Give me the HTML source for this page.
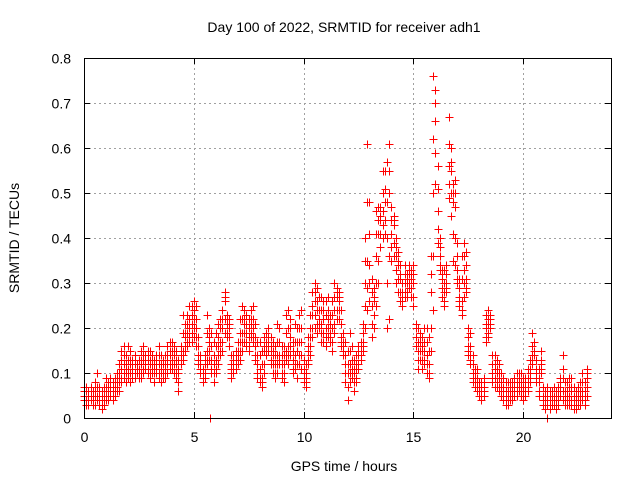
<!DOCTYPE html>
<html><head><meta charset="utf-8"><style>
body{margin:0;background:#fff;}
svg text{font-family:"Liberation Sans",sans-serif;font-size:14px;fill:#000;}
</style></head><body>
<svg id="chart" width="640" height="480" viewBox="0 0 640 480" xmlns="http://www.w3.org/2000/svg">
<rect width="640" height="480" fill="#fff"/>
<text x="344" y="32" text-anchor="middle">Day 100 of 2022, SRMTID for receiver adh1</text>
<text transform="translate(19,238) rotate(-90)" text-anchor="middle">SRMTID / TECUs</text>
<text x="344" y="471" text-anchor="middle">GPS time / hours</text>
<g id="grid" shape-rendering="crispEdges"></g>
<g id="ticks"></g>
<g id="marks" shape-rendering="crispEdges"></g>
<rect x="84.5" y="58.5" width="527" height="360" fill="none" stroke="#000" stroke-width="1" shape-rendering="crispEdges"/>
</svg>
<script>
const xTicks=[0,5,10,15,20];
const yTicks=[0,0.1,0.2,0.3,0.4,0.5,0.6,0.7,0.8];
const yTickLabels=["0","0.1","0.2","0.3","0.4","0.5","0.6","0.7","0.8"];
const tStart=0, tStep=0.1;
const lowVals=[4,3,3,4,3,3,4,3,2,3, 4,4,5,4,5,6,6,8,9,8, 9,8,9,9,10,9,9,10,11,10, 9,10,8,10,9,8,9,9,10,11, 11,10,9,6,12,13,15,16,17,17, 18,16,12,10,8,9,12,13,10,8, 10,12,14,15,19,18,16,9,10,11, 12,13,15,17,16,15,18,17,13,9, 8,7,10,14,15,12,10,9,10,12, 9,8,13,12,14,10,11,9,12,11, 8,7,12,14,18,20,19,20,17,17, 16,18,17,15,19,22,22,16,14,8, 4,8,9,6,8,11,13,15,20,24, 26,18,20,25,30,38,40,41,20,22, 35,36,30,28,26,25,27,27,29,27, 25,20,11,13,11,12,10,9,15,24, 52,39,33,27,25,28,49,45,35,34, 30,25,23,27,28,14,12,8,7,6, 5,4,5,17,18,20,8,7,7,6, 5,4,3,3,4,4,5,5,6,5, 4,5,6,8,12,14,8,5,10,5, 2,3,2,3,3,2,3,5,4,3, 3,3,3,2,2,3,3,4,3,5];
const lowerMidVals=[4,4,4,5,4,5,5,4,3,4, 5,5,6,5,6,7,8,9,10,10, 10,10,10,10,10,10,10,11,12,11, 10,11,10,11,10,10,10,10,12,12, 12,12,10,8,13,14,16,17,18,19, 20,18,13,11,9,10,13,15,11,10, 11,14,15,17,22,19,18,10,11,12, 13,15,17,19,17,16,19,18,14,10, 9,8,12,15,16,13,12,10,12,13, 10,10,14,14,16,11,12,12,14,14, 9,8,13,16,20,23,21,21,19,19, 18,20,18,17,21,24,24,17,15,10, 7,10,10,8,9,12,14,16,25,29, 30,21,23,30,35,41,43,44,30,36, 38,39,33,31,28,26,28,28,30,29, 27,18,13,15,13,13,12,10,20,36, 59,42,34,29,26,29,52,50,41,40, 31,26,24,30,29,15,13,9,8,7, 5,5,6,18,19,21,9,9,8,7, 6,5,4,4,5,5,6,6,7,6, 5,6,7,9,13,15,9,6,11,4, 3,4,3,4,3,3,4,6,6,4, 4,4,4,3,3,4,4,5,4,7];
const midVals=[5,6,5,5,5,6,5,5,4,5, 6,6,7,6,7,8,9,11,12,11, 11,12,11,12,11,10,12,13,12,13, 12,12,11,12,12,11,12,11,13,14, 13,14,12,10,14,15,18,19,20,21, 22,20,14,12,10,12,15,17,13,12, 13,16,17,20,26,21,20,11,12,13, 14,17,19,21,19,18,21,20,16,12, 11,9,15,16,17,15,14,12,14,14, 12,12,15,16,18,13,14,15,17,17, 10,9,15,18,23,26,24,22,21,22, 20,22,19,20,24,27,26,18,16,12, 10,12,11,10,11,14,15,17,30,35, 34,25,26,36,41,44,46,48,40,50, 41,43,36,34,31,27,30,30,32,31, 30,16,15,17,15,15,14,12,28,50, 66,46,36,31,28,30,56,55,48,47, 33,27,26,33,31,16,14,10,9,8, 6,6,7,20,21,22,10,11,10,9, 7,6,5,5,6,6,7,7,8,7, 6,7,8,10,14,17,10,8,12,3, 4,5,4,5,4,4,5,7,9,5, 5,5,6,4,4,5,5,6,5,9];
const upperMidVals=[6,6,6,6,6,7,7,6,5,6, 7,7,8,7,8,9,10,13,14,12, 13,13,12,13,12,11,13,14,13,14, 13,13,12,13,14,12,12,12,14,15, 15,15,13,11,15,19,19,21,22,23, 24,22,16,13,10,13,19,18,16,14, 16,18,20,22,27,22,21,12,13,14, 15,19,22,22,21,20,22,22,18,14, 14,12,16,17,18,16,15,14,17,17, 14,14,19,20,20,15,17,17,20,20, 11,10,16,20,25,28,26,24,24,24, 23,24,21,23,27,28,27,21,17,14, 12,15,13,11,12,15,16,19,35,48, 41,28,27,41,44,45,50,51,48,55, 44,44,38,35,32,28,32,31,33,32, 32,18,17,18,16,17,17,15,32,62, 70,51,38,32,30,32,61,57,50,50, 36,29,31,36,34,18,16,12,10,9, 7,7,8,21,22,22,12,12,11,10, 8,7,6,6,7,7,8,8,9,8, 7,8,9,11,16,17,11,9,13,5, 5,6,5,5,5,5,6,8,11,6, 6,7,7,5,5,6,6,8,6,10];
const highVals=[7,7,6,7,6,8,10,7,6,7, 9,8,9,8,9,10,12,15,16,14, 16,15,13,14,12,13,15,16,14,15, 15,14,13,14,16,14,13,14,16,17, 17,16,15,13,16,23,21,23,25,25, 26,25,18,14,11,14,23,20,19,17, 19,21,22,24,28,23,22,14,14,15, 17,22,25,24,23,22,24,25,21,17, 17,15,18,19,20,18,17,16,21,20, 16,16,23,24,22,17,21,20,23,24, 13,12,18,23,28,30,29,27,27,26, 26,27,23,26,30,29,28,24,19,17, 15,19,16,13,14,16,17,21,40,61, 48,31,29,46,47,47,55,55,57,61, 47,45,40,37,34,30,34,32,34,33, 34,21,20,19,18,20,20,18,36,76, 73,56,40,33,33,34,67,60,52,53, 39,31,36,39,37,20,19,14,11,11, 8,8,9,23,24,23,14,14,13,12, 10,9,8,8,8,8,9,10,10,10, 9,9,11,13,19,17,13,11,15,7, 6,7,6,6,7,6,7,9,14,8, 8,9,9,7,6,7,8,10,8,11];
const isolatedTimes=[5.75,21.1];
const isolatedVals=[0,0];

const L=84,R=611,T=58,B=418,XMAX=24,YMAX=0.8;
function sx(t){return L+(t/XMAX)*(R-L);}
function sy(v){return B-(v/YMAX)*(B-T);}
const NS="http://www.w3.org/2000/svg";
const grid=document.getElementById('grid'),ticks=document.getElementById('ticks'),marks=document.getElementById('marks');
function mk(tag,attrs,parent){const e=document.createElementNS(NS,tag);for(const k in attrs)e.setAttribute(k,attrs[k]);parent.appendChild(e);return e;}
xTicks.forEach(t=>{
  const x=Math.round(sx(t))+0.5;
  if(t>0){const g=mk('line',{x1:x,y1:T,x2:x,y2:B,stroke:'#a0a0a0','stroke-dasharray':'2,3'},grid);
  
  }
  mk('line',{x1:x,y1:B,x2:x,y2:B-6,stroke:'#000'},ticks);
  mk('line',{x1:x,y1:T,x2:x,y2:T+6,stroke:'#000'},ticks);
  const lb=mk('text',{x:x,y:B+24,'text-anchor':'middle'},ticks);lb.textContent=String(t);
  
  
});
yTicks.forEach((v,i)=>{
  const y=Math.round(sy(v))+0.5;
  if(v>0&&v<YMAX){const g=mk('line',{x1:L,y1:y,x2:R,y2:y,stroke:'#a0a0a0','stroke-dasharray':'2,3'},grid);
  
  }
  mk('line',{x1:L,y1:y,x2:L+6,y2:y,stroke:'#000'},ticks);
  mk('line',{x1:R,y1:y,x2:R-6,y2:y,stroke:'#000'},ticks);
  const lb=mk('text',{x:71,y:y+5,'text-anchor':'end'},ticks);lb.textContent=yTickLabels[i];
  
  
});
function plus(t,v){
  const x=Math.round(sx(t))+0.5,y=Math.round(sy(v))+0.5;
  const p=mk('path',{d:`M${x-4} ${y}h8M${x} ${y-4}v8`,stroke:'#ff0000','stroke-width':1,fill:'none'},marks);
  
  
}
isolatedTimes.forEach((t,i)=>plus(t,isolatedVals[i]));
[lowVals,lowerMidVals,midVals,upperMidVals,highVals].forEach(arr=>arr.forEach((h,i)=>{
  plus(tStart+i*tStep,h/100);
}));
</script>
</body></html>
